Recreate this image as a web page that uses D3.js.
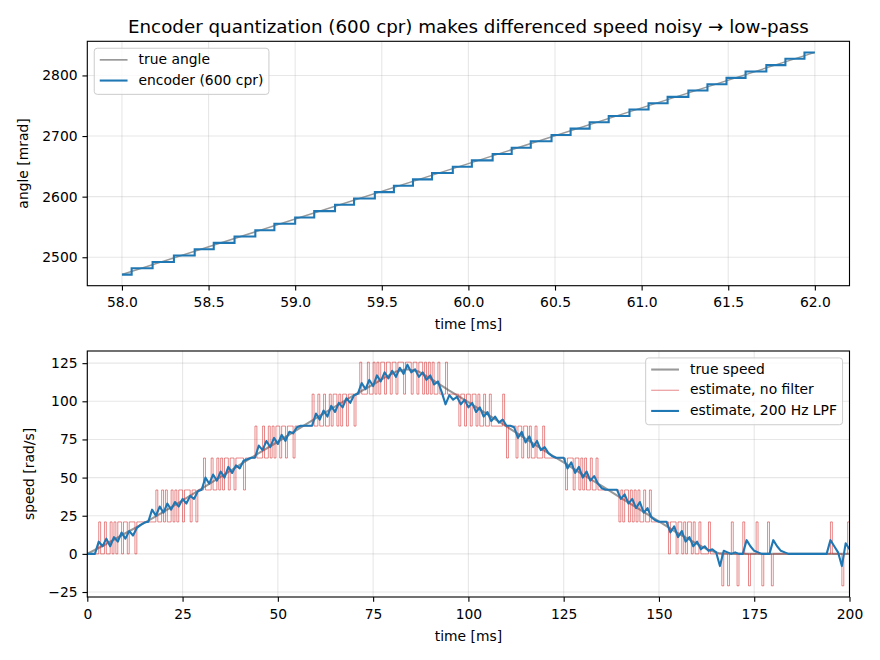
<!DOCTYPE html>
<html>
<head>
<meta charset="utf-8">
<script src="https://cdn.jsdelivr.net/npm/d3@7"></script>
<style>
  body { margin: 0; background: #fff; }
  svg { display: block; font-family: "DejaVu Sans", sans-serif; }
</style>
</head>
<body>
<svg id="chart" width="880" height="660"></svg>
<script>
// ---- top panel: angle around 58..62 ms ----
const trueAngleT = [58, 59, 60, 61, 62];
const trueAngle = [2471.5, 2563, 2654.5, 2746.5, 2838];

// encoder edge times (ms) and the count levels it holds (mrad)
const encEdges = [58.056, 58.177, 58.30, 58.42, 58.53, 58.65, 58.77, 58.88,
    59.00, 59.11, 59.23, 59.34, 59.46, 59.57, 59.68, 59.79, 59.91,
    60.02, 60.14, 60.25, 60.36, 60.48, 60.59, 60.70, 60.81, 60.93,
    61.04, 61.15, 61.27, 61.38, 61.49, 61.60, 61.72, 61.83, 61.94];
const encLevels = [2471.4, 2481.9, 2492.3, 2502.8, 2513.3, 2523.7, 2534.2, 2544.7,
    2555.2, 2565.6, 2576.1, 2586.6, 2597.0, 2607.5, 2618.0, 2628.5, 2638.9,
    2649.4, 2659.9, 2670.4, 2680.8, 2691.3, 2701.8, 2712.2, 2722.7, 2733.2,
    2743.7, 2754.1, 2764.6, 2775.1, 2785.5, 2796.0, 2806.5, 2817.0, 2827.4, 2837.9];

// ---- bottom panel: speed over 0..200 ms ----
const trueSpeedT = [0, 5, 10, 15, 20, 25, 30, 35, 40, 45, 50, 55, 60, 65, 70, 75, 78, 81, 84, 87,
    90, 95, 100, 105, 110, 115, 120, 125, 130, 135, 140, 145, 150, 155, 160, 163, 166, 170, 200];
const trueSpeed = [0, 6.5, 13.5, 20.3, 27.5, 35, 42.7, 50.5, 58.3, 66, 73.5, 81.3, 89, 96.5, 104, 111, 115.5, 119.5, 121, 119.5,
    115, 107, 99.5, 91.5, 83.5, 75.5, 67.5, 60, 52, 44.5, 36.7, 29, 21.3, 13.5, 6.5, 2.5, 0.3, 0, 0];

// raw differenced speed: one char per 0.5 ms sample, value = counts per sample ("-" = -1)
const rawDt = 0.5;
const rawQuantum = 20.94;
const rawCounts = [
    "000000 1001001 0101101 1011101 111111111 2112",
    "121121 212212 221221 222 322232 232323 3233233",
    "3323 3333 4333433 4343443 4434443 444444444 54",
    "4544544 5455454 5545554 55 6555655 6565665665",
    "66566656 66566566 56565655 65556 555555 45545",
    "5455454 4544544 44445 4 3444434 4344343 343334",
    "33333333333 233323 323232 23223 22222222222 1",
    "21221212 12112112 111111111 0111011 01011010",
    "0100001 000000 - 00 - 0100 - 00100 - 000100 - 0010 -",
    "0000000000 0000000000 0000000000 1 00000 - 00 1"
];

// 200 Hz low-passed estimate, one value per ms (0..200)
const lpfSpeed = [
    0, 0, 0, 8, 5, 10, 5, 11, 8, 14,
    10, 15, 12, 17, 19, 20.5, 21, 29, 25, 31,
    27, 33, 29, 34, 31, 36, 33, 38, 36, 41,
    42, 50, 46, 52, 48, 54, 50, 57, 53, 58,
    56, 61, 62, 63, 63, 71, 68, 74, 70, 76,
    72, 78, 74, 80, 79, 83, 84, 84, 84, 84,
    92, 88, 94, 90, 97, 93, 99, 96, 102, 99,
    104, 105, 112, 108, 114, 110, 117, 113, 119, 115,
    120, 116, 122, 118, 124, 119, 121, 116, 119, 114,
    117, 111, 113, 106, 98, 104, 101, 103, 98, 101,
    96, 99, 93, 96, 90, 93, 87, 90, 86, 88,
    84, 84, 83, 76, 80, 73, 77, 70, 74, 68,
    70, 66, 64, 63, 63, 63, 56, 60, 53, 57,
    50, 54, 48, 51, 46, 43, 42, 42, 42, 42,
    36, 39, 33, 36, 30, 34, 27, 30, 24, 22,
    21, 21, 21, 14, 18, 11, 15, 8, 11, 5,
    8, 3, 5, 2, 3, 1, -8, 2, 1, 0,
    1, 0, 0, 9, 5, 2, 1, 0, 0, 0,
    9, 5, 2, 1, 0, 0, 0, 0, 0, 0,
    0, 0, 0, 0, 0, 9, 5, 1, -8, 7,
    3
];

const topXTicks = [58.0, 58.5, 59.0, 59.5, 60.0, 60.5, 61.0, 61.5, 62.0];
const topYTicks = [2500, 2600, 2700, 2800];
const botXTicks = [0, 25, 50, 75, 100, 125, 150, 175, 200];
const botYTicks = [-25, 0, 25, 50, 75, 100, 125];

// ---- layout ----
const px = 100 / 72;             // points -> pixels
const tickFont = 10 * px, titleFont = 18.3;
const blue = "#1f77b4", red = "#d62728", grey = "#808080";

const svg = d3.select("#chart");
svg.append("rect").attr("width", 880).attr("height", 660).attr("fill", "#fff");

const topBox = { left: 87.3, right: 849.5, top: 41.3, bottom: 285.7 };
const botBox = { left: 87.3, right: 849.5, top: 351, bottom: 597 };

function padded(ext) {
    const r = ext[1] - ext[0];
    return [ext[0] - 0.05 * r, ext[1] + 0.05 * r];
}

function gridAndClip(box, x, y, xTicks, yTicks, id) {
    const g = svg.append("g");
    g.selectAll(".gx").data(xTicks).join("line")
        .attr("x1", d => x(d)).attr("x2", d => x(d))
        .attr("y1", box.top).attr("y2", box.bottom);
    g.selectAll(".gy").data(yTicks).join("line")
        .attr("x1", box.left).attr("x2", box.right)
        .attr("y1", d => y(d)).attr("y2", d => y(d));
    g.selectAll("line").attr("stroke", "#b0b0b0").attr("stroke-opacity", 0.3).attr("stroke-width", 0.8 * px);
    svg.append("clipPath").attr("id", id).append("rect")
        .attr("x", box.left).attr("y", box.top)
        .attr("width", box.right - box.left).attr("height", box.bottom - box.top);
    return svg.append("g").attr("clip-path", "url(#" + id + ")");
}

function frame(box, x, y, xTicks, yTicks, xFmt, yFmt, xLabel, yLabel, yLabelX) {
    svg.append("rect")
        .attr("x", box.left).attr("y", box.top)
        .attr("width", box.right - box.left).attr("height", box.bottom - box.top)
        .attr("fill", "none").attr("stroke", "#000").attr("stroke-width", 0.8 * px);

    svg.append("g").attr("transform", "translate(0," + box.bottom + ")")
        .call(d3.axisBottom(x).tickValues(xTicks).tickFormat(xFmt).tickSize(3.5 * px).tickPadding(3.5 * px))
        .call(a => a.select(".domain").remove())
        .call(a => a.selectAll("line").attr("stroke-width", 0.8 * px))
        .call(a => a.selectAll("text").attr("dy", "0.87em"))
        .attr("font-family", "DejaVu Sans").attr("font-size", tickFont);

    svg.append("g").attr("transform", "translate(" + box.left + ",0)")
        .call(d3.axisLeft(y).tickValues(yTicks).tickFormat(yFmt).tickSize(3.5 * px).tickPadding(3.5 * px))
        .call(a => a.select(".domain").remove())
        .call(a => a.selectAll("line").attr("stroke-width", 0.8 * px))
        .attr("font-family", "DejaVu Sans").attr("font-size", tickFont);

    svg.append("text")
        .attr("x", (box.left + box.right) / 2).attr("y", box.bottom + 43.6)
        .attr("text-anchor", "middle").attr("font-size", tickFont)
        .text(xLabel);

    svg.append("text")
        .attr("transform", "translate(" + yLabelX + "," + (box.top + box.bottom) / 2 + ") rotate(-90)")
        .attr("text-anchor", "middle").attr("font-size", tickFont)
        .text(yLabel);
}

function legend(box, items, alignRight) {
    const lg = svg.append("g");
    const rowH = 20.7;
    const bg = lg.append("rect");
    let maxLen = 0;
    items.forEach(function (it, i) {
        const cy = 11.6 + i * rowH;
        lg.append("line")
            .attr("x1", 5.5).attr("x2", 33.3).attr("y1", cy).attr("y2", cy)
            .attr("stroke", it.color).attr("stroke-width", it.width).attr("stroke-opacity", it.opacity);
        const t = lg.append("text")
            .attr("x", 44.3).attr("y", cy + 4)
            .attr("font-size", tickFont)
            .text(it.label);
        maxLen = Math.max(maxLen, t.node().getComputedTextLength());
    });
    const w = 44.3 + maxLen + 5.6;
    const h = items.length * rowH + 4.7;
    bg.attr("width", w).attr("height", h).attr("rx", 3).attr("ry", 3)
        .attr("fill", "#fff").attr("fill-opacity", 0.8)
        .attr("stroke", "#cccccc").attr("stroke-width", 1);
    const gap = 0.5 * tickFont;
    const x0 = alignRight ? box.right - gap - w : box.left + gap;
    lg.attr("transform", "translate(" + x0 + "," + (box.top + gap) + ")");
}

// ---- top panel ----
const encPts = [[58, encLevels[0]]];
encEdges.forEach(function (t, i) { encPts.push([t, encLevels[i + 1]]); });
encPts.push([62, encLevels[encLevels.length - 1]]);
const anglePts = trueAngleT.map((t, i) => [t, trueAngle[i]]);

const xTop = d3.scaleLinear().domain(padded([58, 62])).range([topBox.left, topBox.right]);
const yTop = d3.scaleLinear()
    .domain(padded(d3.extent(encLevels.concat(trueAngle))))
    .range([topBox.bottom, topBox.top]);

const topPlot = gridAndClip(topBox, xTop, yTop, topXTicks, topYTicks, "clipTop");
topPlot.append("path").datum(anglePts)
    .attr("fill", "none").attr("stroke", grey).attr("stroke-opacity", 0.8).attr("stroke-width", 1.5)
    .attr("d", d3.line().x(d => xTop(d[0])).y(d => yTop(d[1])));
topPlot.append("path").datum(encPts)
    .attr("fill", "none").attr("stroke", blue).attr("stroke-width", 1.5 * px)
    .attr("d", d3.line().curve(d3.curveStepAfter).x(d => xTop(d[0])).y(d => yTop(d[1])));

frame(topBox, xTop, yTop, topXTicks, topYTicks, d3.format(".1f"), d3.format("d"),
    "time [ms]", "angle [mrad]", 27.7);

svg.append("text")
    .attr("x", (topBox.left + topBox.right) / 2).attr("y", 32.5)
    .attr("text-anchor", "middle").attr("font-size", titleFont)
    .text("Encoder quantization (600 cpr) makes differenced speed noisy \u2192 low-pass");

legend(topBox, [
    { label: "true angle", color: grey, width: 1.7, opacity: 0.8 },
    { label: "encoder (600 cpr)", color: blue, width: 1.5 * px, opacity: 1 }
], false);

// ---- bottom panel ----
const rawSamples = rawCounts.join("").replace(/\s+/g, "").split("")
    .map(c => (c === "-" ? -1 : +c));
const rawPts = rawSamples.map((c, i) => [i * rawDt, c * rawQuantum]);
rawPts.push([200, rawPts[rawPts.length - 1][1]]);
const lpfPts = lpfSpeed.map((v, i) => [i, v]);
const truePts = trueSpeedT.map((t, i) => [t, trueSpeed[i]]);

const xBot = d3.scaleLinear().domain([0, 200]).range([botBox.left, botBox.right]);
const yBot = d3.scaleLinear()
    .domain(padded(d3.extent(rawPts, d => d[1])))
    .range([botBox.bottom, botBox.top]);

const botPlot = gridAndClip(botBox, xBot, yBot, botXTicks, botYTicks, "clipBot");
botPlot.append("path").datum(truePts)
    .attr("fill", "none").attr("stroke", grey).attr("stroke-opacity", 0.8).attr("stroke-width", 1.5 * px)
    .attr("stroke-linejoin", "round")
    .attr("d", d3.line().x(d => xBot(d[0])).y(d => yBot(d[1])));
botPlot.append("path").datum(rawPts)
    .attr("fill", "none").attr("stroke", red).attr("stroke-opacity", 0.55).attr("stroke-width", 1)
    .attr("d", d3.line().curve(d3.curveStepAfter).x(d => xBot(d[0])).y(d => yBot(d[1])));
botPlot.append("path").datum(lpfPts)
    .attr("fill", "none").attr("stroke", blue).attr("stroke-width", 1.5 * px)
    .attr("stroke-linejoin", "round")
    .attr("d", d3.line().x(d => xBot(d[0])).y(d => yBot(d[1])));

frame(botBox, xBot, yBot, botXTicks, botYTicks, d3.format("d"), d3.format("d"),
    "time [ms]", "speed [rad/s]", 34.2);

legend(botBox, [
    { label: "true speed", color: grey, width: 1.5 * px, opacity: 0.8 },
    { label: "estimate, no filter", color: red, width: 1, opacity: 0.55 },
    { label: "estimate, 200 Hz LPF", color: blue, width: 1.5 * px, opacity: 1 }
], true);
</script>
</body>
</html>
